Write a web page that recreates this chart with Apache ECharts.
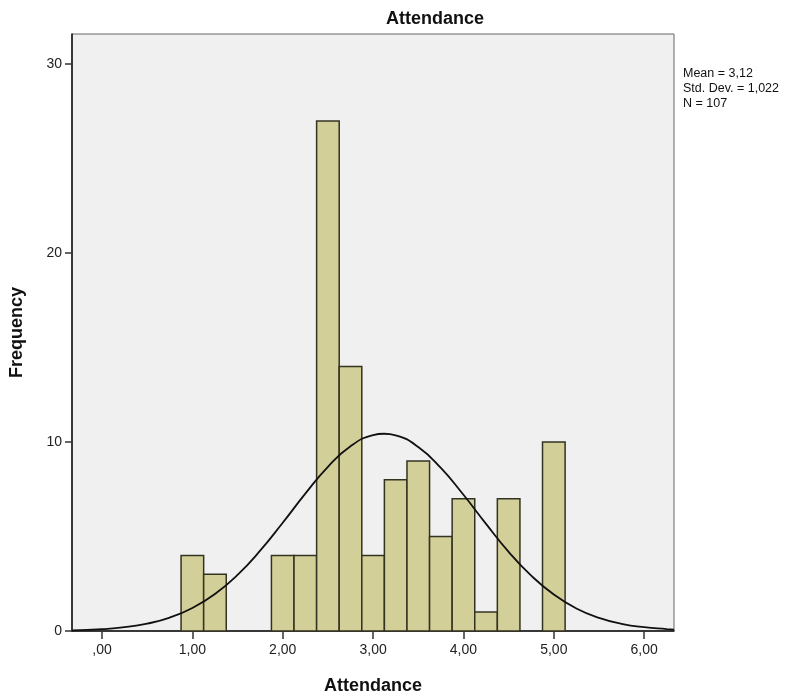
<!DOCTYPE html>
<html>
<head>
<meta charset="utf-8">
<script src="https://cdn.jsdelivr.net/npm/echarts@6/dist/echarts.min.js"></script>
<style>
  html, body { margin: 0; padding: 0; background: #fff; }
  #chart { width: 812px; height: 700px; }
</style>
</head>
<body>
<div id="chart"></div>
<script>
// histogram bins (centres, width 0.25) and frequencies
const binCenters = [1.0, 1.25, 2.0, 2.25, 2.5, 2.75, 3.0, 3.25, 3.5, 3.75, 4.0, 4.25, 4.5, 5.0];
const counts = [4, 3, 4, 4, 27, 14, 4, 8, 9, 5, 7, 1, 7, 10];
const binWidth = 0.25;

// normal curve
const curveX = [-0.33, 0, 0.25, 0.5, 0.75, 1, 1.25, 1.5, 1.75, 2, 2.25, 2.5, 2.75, 3, 3.12, 3.25, 3.5, 3.75, 4, 4.25, 4.5, 4.75, 5, 5.25, 5.5, 5.75, 6, 6.25, 6.33];
const curveY = [0.03, 0.1, 0.2, 0.39, 0.71, 1.22, 1.96, 2.97, 4.25, 5.73, 7.27, 8.69, 9.78, 10.37, 10.44, 10.36, 9.74, 8.63, 7.21, 5.67, 4.19, 2.93, 1.93, 1.19, 0.69, 0.38, 0.2, 0.1, 0.07];

const xTicks = [0, 1, 2, 3, 4, 5, 6];
const yTicks = [0, 10, 20, 30];
const statsLines = ['Mean = 3,12', 'Std. Dev. = 1,022', 'N = 107'];

const chart = echarts.init(document.getElementById('chart'));

const fmt = v => (v === 0 ? ',00' : v.toFixed(2).replace('.', ','));

const option = {
    backgroundColor: '#ffffff',
    animation: false,
    textStyle: { fontFamily: 'Liberation Sans, Arial, sans-serif' },
    title: {
        text: 'Attendance',
        left: 430,
        top: 5,
        textAlign: 'center',
        textStyle: { fontSize: 18, fontWeight: 'bold', color: '#111' }
    },
    grid: {
        left: 72,
        top: 34,
        right: 138,
        bottom: 69,
        show: true,
        backgroundColor: '#f0f0f0',
        borderColor: '#666',
        borderWidth: 1
    },
    xAxis: {
        type: 'value',
        min: -0.332,
        max: 6.33,
        name: 'Attendance',
        nameLocation: 'middle',
        nameGap: 46,
        nameTextStyle: { fontSize: 18, fontWeight: 'bold', color: '#111' },
        splitLine: { show: false },
        axisLine: { onZero: false, lineStyle: { color: '#111', width: 1.5 } },
        axisTick: { show: true, length: 8, customValues: xTicks, lineStyle: { color: '#333', width: 1.5 } },
        axisLabel: { customValues: xTicks, formatter: fmt, fontSize: 14, color: '#222', margin: 12 }
    },
    yAxis: {
        type: 'value',
        min: 0,
        max: 31.6,
        name: 'Frequency',
        nameLocation: 'middle',
        nameRotate: 90,
        nameGap: 46,
        nameTextStyle: { fontSize: 18, fontWeight: 'bold', color: '#111' },
        splitLine: { show: false },
        axisLine: { show: true, onZero: false, lineStyle: { color: '#111', width: 1.5 } },
        axisTick: { show: true, length: 7, customValues: yTicks, lineStyle: { color: '#333', width: 1.5 } },
        axisLabel: { customValues: yTicks, fontSize: 14, color: '#222', margin: 10 }
    },
    graphic: statsLines.map((t, i) => ({
        type: 'text',
        left: 683,
        top: 67 + i * 15,
        style: { text: t, fontSize: 12.5, fill: '#111', fontFamily: 'Liberation Sans, Arial, sans-serif' }
    })),
    series: [
        {
            type: 'custom',
            data: binCenters.map((c, i) => [c - binWidth / 2, c + binWidth / 2, counts[i]]),
            encode: { x: [0, 1], y: 2 },
            renderItem: (params, api) => {
                const p0 = api.coord([api.value(0), 0]);
                const p1 = api.coord([api.value(1), api.value(2)]);
                return {
                    type: 'rect',
                    shape: { x: p0[0], y: p1[1], width: p1[0] - p0[0], height: p0[1] - p1[1] },
                    style: { fill: '#d3cf98', stroke: '#333322', lineWidth: 1.5 }
                };
            },
            z: 2
        },
        {
            type: 'line',
            data: curveX.map((x, i) => [x, curveY[i]]),
            smooth: true,
            showSymbol: false,
            lineStyle: { color: '#111', width: 1.8 },
            z: 3
        }
    ]
};

chart.setOption(option);
</script>
</body>
</html>
